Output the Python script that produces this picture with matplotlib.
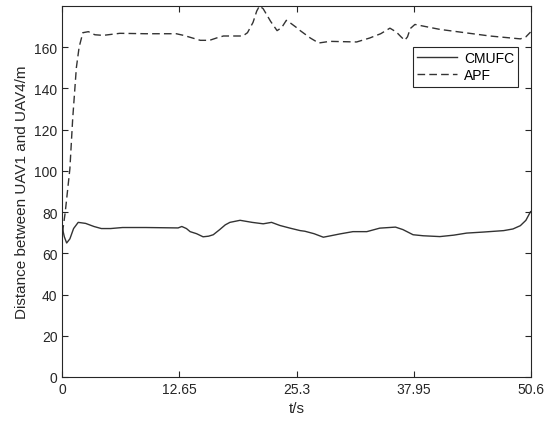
import matplotlib.pyplot as plt

plt.rcParams['font.family'] = ['Liberation Sans', 'DejaVu Sans']

# CMUFC distance
t_cmufc = [0.0, 0.2, 0.45, 0.8, 1.2, 1.7, 2.5, 3.4, 4.2, 5.2, 6.5, 9.0, 12.5, 12.9, 13.4, 13.8,
           14.5, 15.2, 15.8, 16.3, 17.0, 17.6, 18.1, 19.2, 20.5, 21.7, 22.6, 23.5, 24.6, 25.7,
           26.2, 27.2, 28.2, 29.0, 30.0, 31.4, 32.9, 34.3, 36.0, 36.8, 37.9, 39.0, 40.8,
           42.3, 43.7, 45.5, 47.7, 48.7, 49.5, 50.1, 50.6]
d_cmufc = [72, 68, 65, 67, 72, 75, 74.5, 73, 72, 72, 72.5, 72.5, 72.3, 73, 72, 70.5,
           69.5, 68, 68.3, 69, 71.5, 73.8, 75, 76, 75, 74.3, 75, 73.5, 72.2, 71,
           70.7, 69.5, 67.8, 68.5, 69.4, 70.5, 70.5, 72.2, 72.7, 71.5, 69, 68.5, 68.1,
           68.8, 69.8, 70.3, 71, 71.8, 73.4, 76, 80.2]

# APF distance
t_apf = [0.0, 0.3, 0.8, 1.1, 1.5, 1.8, 2.2, 2.8, 3.5, 4.4, 5.3, 6.2, 9.0, 12.3, 13.1, 14.0,
         14.9, 15.9, 16.7, 17.4, 19.5, 20.0, 20.6, 21.0, 21.3, 21.7, 22.5, 23.2, 23.7,
         24.2, 24.7, 25.3, 25.7, 26.8, 27.7, 28.9, 31.8, 33.2, 34.4, 35.4, 36.1, 36.6,
         37.0, 37.3, 37.6, 38.1, 40.8, 46.2, 49.5, 50.1, 50.6]
d_apf = [70, 80, 101, 125, 150, 160, 167, 167.5, 166, 165.7, 166.2, 166.7, 166.5, 166.5, 165.7, 164.5,
         163.3, 163.3, 164.5, 165.4, 165.4, 167, 172, 177.5, 180, 178.6, 172.5, 168, 169.5,
         173, 171.5, 169.5, 168, 164.4, 162, 162.8, 162.5, 164.4, 166.5, 169.2, 167.3, 165,
         163.3, 165, 169, 171, 168.6, 165.4, 164, 165, 167.3]

xticks = [0, 12.65, 25.3, 37.95, 50.6]
xtick_labels = ['0', '12.65', '25.3', '37.95', '50.6']
yticks = [0, 20, 40, 60, 80, 100, 120, 140, 160]

fig = plt.figure(figsize=(5.5, 4.31), dpi=100)
ax = fig.add_axes([0.1136, 0.123, 0.851, 0.861])

ax.plot(t_cmufc, d_cmufc, color='#333333', linewidth=1.0, label='CMUFC')
ax.plot(t_apf, d_apf, color='#333333', linewidth=1.0, dashes=(5.5, 3), label='APF')

ax.set_xlim(0, 50.6)
ax.set_ylim(0, 180)
ax.set_xticks(xticks)
ax.set_xticklabels(xtick_labels)
ax.set_yticks(yticks)
ax.tick_params(direction='in', top=True, right=True, labelsize=10, length=4,
               color='#262626', labelcolor='#262626')
for s in ax.spines.values():
    s.set_color('#262626')
    s.set_linewidth(0.8)

ax.set_xlabel('t/s', fontsize=11, color='#262626')
ax.set_ylabel('Distance between UAV1 and UAV4/m', fontsize=11, color='#262626')

leg = ax.legend(loc='upper right', bbox_to_anchor=(0.974, 0.89), borderaxespad=0,
                fontsize=10, fancybox=False, framealpha=1, edgecolor='#262626',
                handlelength=2.9, handletextpad=0.5, borderpad=0.3, labelspacing=0.25)
leg.get_frame().set_linewidth(0.8)

fig.savefig('out.png', dpi=100)
